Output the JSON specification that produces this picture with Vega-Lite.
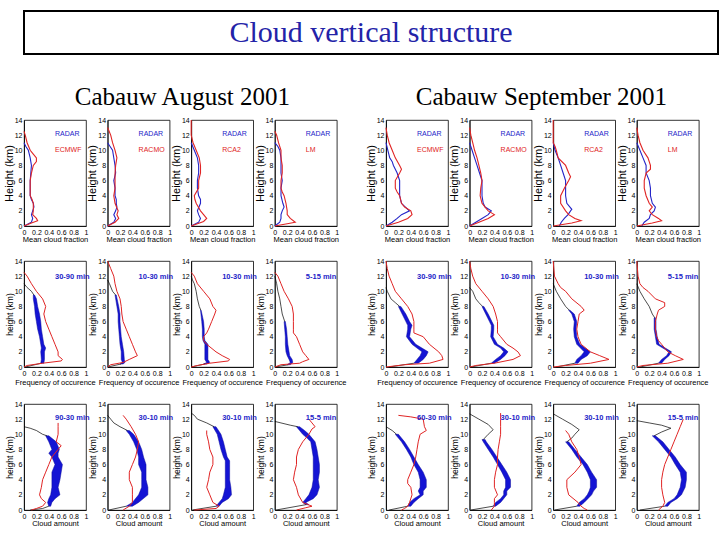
{
"$schema": "https://vega.github.io/schema/vega-lite/v6.json",
"background": "white",
"padding": {"left": 0, "top": 10, "right": 0, "bottom": 0},
"config": {
 "font": "Liberation Sans",
 "mark": {"invalid": null},
 "view": {"stroke": "#000", "strokeWidth": 0.8},
 "axis": {"grid": false, "ticks": false, "domainColor": "#000", "domainWidth": 0.8, "labelColor": "#000", "labelFontSize": 7, "labelPadding": 2, "labelFlush": false, "labelOverlap": false, "labelBound": false, "titleColor": "#000", "titleFontSize": 7.5, "titleFontWeight": "normal", "titlePadding": 0},
 "title": {"color": "#000", "font": "Liberation Serif", "fontWeight": "normal"}
},
"datasets": {
"a1": [
{"c":1,"s":"lab","t1":"RADAR","t2":"ECMWF"},{"c":2,"s":"lab","t1":"RADAR","t2":"RACMO"},{"c":3,"s":"lab","t1":"RADAR","t2":"RCA2"},{"c":4,"s":"lab","t1":"RADAR","t2":"LM"},
{"c":1,"s":"b","h":11,"x":0},{"c":1,"s":"b","h":10.5,"x":0.03},{"c":1,"s":"b","h":10,"x":0.07},{"c":1,"s":"b","h":9,"x":0.1},{"c":1,"s":"b","h":8,"x":0.12},{"c":1,"s":"b","h":7,"x":0.11},{"c":1,"s":"b","h":6,"x":0.1},{"c":1,"s":"b","h":5,"x":0.1},{"c":1,"s":"b","h":4,"x":0.1},{"c":1,"s":"b","h":3.5,"x":0.12},{"c":1,"s":"b","h":3,"x":0.15},{"c":1,"s":"b","h":2.5,"x":0.16},{"c":1,"s":"b","h":2,"x":0.14},{"c":1,"s":"b","h":1.5,"x":0.12},{"c":1,"s":"b","h":1,"x":0.14},{"c":1,"s":"b","h":0.5,"x":0.12},{"c":1,"s":"b","h":0.2,"x":0.05},{"c":1,"s":"b","h":0,"x":0},
{"c":1,"s":"r","h":12.5,"x":0},{"c":1,"s":"r","h":12,"x":0.02},{"c":1,"s":"r","h":11,"x":0.05},{"c":1,"s":"r","h":10,"x":0.1},{"c":1,"s":"r","h":9.5,"x":0.15},{"c":1,"s":"r","h":9,"x":0.2},{"c":1,"s":"r","h":8.5,"x":0.2},{"c":1,"s":"r","h":8,"x":0.15},{"c":1,"s":"r","h":7,"x":0.12},{"c":1,"s":"r","h":6,"x":0.1},{"c":1,"s":"r","h":5,"x":0.1},{"c":1,"s":"r","h":4,"x":0.1},{"c":1,"s":"r","h":3.5,"x":0.13},{"c":1,"s":"r","h":3,"x":0.15},{"c":1,"s":"r","h":2,"x":0.15},{"c":1,"s":"r","h":1.5,"x":0.14},{"c":1,"s":"r","h":1,"x":0.2},{"c":1,"s":"r","h":0.7,"x":0.22},{"c":1,"s":"r","h":0.4,"x":0.12},{"c":1,"s":"r","h":0,"x":0},
{"c":2,"s":"b","h":11,"x":0},{"c":2,"s":"b","h":10.5,"x":0.04},{"c":2,"s":"b","h":10,"x":0.08},{"c":2,"s":"b","h":9,"x":0.1},{"c":2,"s":"b","h":8,"x":0.12},{"c":2,"s":"b","h":7,"x":0.13},{"c":2,"s":"b","h":6,"x":0.1},{"c":2,"s":"b","h":5,"x":0.12},{"c":2,"s":"b","h":4,"x":0.12},{"c":2,"s":"b","h":3.5,"x":0.14},{"c":2,"s":"b","h":3,"x":0.14},{"c":2,"s":"b","h":2.5,"x":0.15},{"c":2,"s":"b","h":2,"x":0.13},{"c":2,"s":"b","h":1.5,"x":0.1},{"c":2,"s":"b","h":1,"x":0.13},{"c":2,"s":"b","h":0.5,"x":0.1},{"c":2,"s":"b","h":0.2,"x":0.04},{"c":2,"s":"b","h":0,"x":0},
{"c":2,"s":"r","h":13,"x":0},{"c":2,"s":"r","h":12,"x":0.05},{"c":2,"s":"r","h":11,"x":0.08},{"c":2,"s":"r","h":10,"x":0.12},{"c":2,"s":"r","h":9,"x":0.15},{"c":2,"s":"r","h":8,"x":0.13},{"c":2,"s":"r","h":7,"x":0.12},{"c":2,"s":"r","h":6,"x":0.12},{"c":2,"s":"r","h":5,"x":0.12},{"c":2,"s":"r","h":4,"x":0.1},{"c":2,"s":"r","h":3,"x":0.12},{"c":2,"s":"r","h":2,"x":0.17},{"c":2,"s":"r","h":1.5,"x":0.15},{"c":2,"s":"r","h":1,"x":0.18},{"c":2,"s":"r","h":0.5,"x":0.12},{"c":2,"s":"r","h":0,"x":0},
{"c":3,"s":"b","h":11,"x":0},{"c":3,"s":"b","h":10,"x":0.05},{"c":3,"s":"b","h":9,"x":0.1},{"c":3,"s":"b","h":8,"x":0.12},{"c":3,"s":"b","h":7,"x":0.12},{"c":3,"s":"b","h":6,"x":0.1},{"c":3,"s":"b","h":5,"x":0.1},{"c":3,"s":"b","h":4,"x":0.12},{"c":3,"s":"b","h":3.5,"x":0.15},{"c":3,"s":"b","h":3,"x":0.15},{"c":3,"s":"b","h":2,"x":0.1},{"c":3,"s":"b","h":1.5,"x":0.12},{"c":3,"s":"b","h":1,"x":0.15},{"c":3,"s":"b","h":0.5,"x":0.12},{"c":3,"s":"b","h":0,"x":0},
{"c":3,"s":"r","h":14,"x":0},{"c":3,"s":"r","h":12,"x":0},{"c":3,"s":"r","h":11,"x":0.03},{"c":3,"s":"r","h":10,"x":0.08},{"c":3,"s":"r","h":9,"x":0.13},{"c":3,"s":"r","h":8,"x":0.15},{"c":3,"s":"r","h":7,"x":0.15},{"c":3,"s":"r","h":6,"x":0.12},{"c":3,"s":"r","h":5,"x":0.12},{"c":3,"s":"r","h":4,"x":0.05},{"c":3,"s":"r","h":3.5,"x":0.06},{"c":3,"s":"r","h":3,"x":0.08},{"c":3,"s":"r","h":2,"x":0.15},{"c":3,"s":"r","h":1.5,"x":0.2},{"c":3,"s":"r","h":1,"x":0.25},{"c":3,"s":"r","h":0.6,"x":0.2},{"c":3,"s":"r","h":0.3,"x":0.1},{"c":3,"s":"r","h":0,"x":0},
{"c":4,"s":"b","h":11,"x":0},{"c":4,"s":"b","h":10.5,"x":0.05},{"c":4,"s":"b","h":10,"x":0.08},{"c":4,"s":"b","h":9,"x":0.1},{"c":4,"s":"b","h":8,"x":0.1},{"c":4,"s":"b","h":7,"x":0.1},{"c":4,"s":"b","h":6,"x":0.12},{"c":4,"s":"b","h":5,"x":0.1},{"c":4,"s":"b","h":4,"x":0.1},{"c":4,"s":"b","h":3,"x":0.13},{"c":4,"s":"b","h":2.5,"x":0.15},{"c":4,"s":"b","h":2,"x":0.12},{"c":4,"s":"b","h":1.5,"x":0.1},{"c":4,"s":"b","h":1,"x":0.1},{"c":4,"s":"b","h":0.5,"x":0.08},{"c":4,"s":"b","h":0,"x":0},
{"c":4,"s":"r","h":12.5,"x":0},{"c":4,"s":"r","h":12,"x":0.03},{"c":4,"s":"r","h":11,"x":0.06},{"c":4,"s":"r","h":10,"x":0.1},{"c":4,"s":"r","h":9,"x":0.1},{"c":4,"s":"r","h":8,"x":0.12},{"c":4,"s":"r","h":7,"x":0.12},{"c":4,"s":"r","h":6,"x":0.1},{"c":4,"s":"r","h":5,"x":0.1},{"c":4,"s":"r","h":4.5,"x":0.12},{"c":4,"s":"r","h":4,"x":0.15},{"c":4,"s":"r","h":3,"x":0.18},{"c":4,"s":"r","h":2,"x":0.2},{"c":4,"s":"r","h":1.5,"x":0.2},{"c":4,"s":"r","h":1,"x":0.25},{"c":4,"s":"r","h":0.5,"x":0.33},{"c":4,"s":"r","h":0.3,"x":0.2},{"c":4,"s":"r","h":0,"x":0}
],
"s1": [
{"c":1,"s":"lab","t1":"RADAR","t2":"ECMWF"},{"c":2,"s":"lab","t1":"RADAR","t2":"RACMO"},{"c":3,"s":"lab","t1":"RADAR","t2":"RCA2"},{"c":4,"s":"lab","t1":"RADAR","t2":"LM"},
{"c":1,"s":"b","h":11,"x":0},{"c":1,"s":"b","h":10,"x":0.03},{"c":1,"s":"b","h":9,"x":0.06},{"c":1,"s":"b","h":8.5,"x":0.1},{"c":1,"s":"b","h":8,"x":0.12},{"c":1,"s":"b","h":7,"x":0.18},{"c":1,"s":"b","h":6.5,"x":0.2},{"c":1,"s":"b","h":6,"x":0.22},{"c":1,"s":"b","h":5,"x":0.22},{"c":1,"s":"b","h":4,"x":0.22},{"c":1,"s":"b","h":3,"x":0.25},{"c":1,"s":"b","h":2.2,"x":0.35},{"c":1,"s":"b","h":2,"x":0.38},{"c":1,"s":"b","h":1.5,"x":0.25},{"c":1,"s":"b","h":1,"x":0.18},{"c":1,"s":"b","h":0.5,"x":0.1},{"c":1,"s":"b","h":0,"x":0},
{"c":1,"s":"r","h":13,"x":0},{"c":1,"s":"r","h":12,"x":0.02},{"c":1,"s":"r","h":11,"x":0.05},{"c":1,"s":"r","h":10,"x":0.1},{"c":1,"s":"r","h":9,"x":0.15},{"c":1,"s":"r","h":8,"x":0.22},{"c":1,"s":"r","h":7.5,"x":0.25},{"c":1,"s":"r","h":7,"x":0.22},{"c":1,"s":"r","h":6,"x":0.15},{"c":1,"s":"r","h":5,"x":0.15},{"c":1,"s":"r","h":4.5,"x":0.18},{"c":1,"s":"r","h":4,"x":0.22},{"c":1,"s":"r","h":3,"x":0.25},{"c":1,"s":"r","h":2.5,"x":0.3},{"c":1,"s":"r","h":2,"x":0.4},{"c":1,"s":"r","h":1.5,"x":0.42},{"c":1,"s":"r","h":1,"x":0.35},{"c":1,"s":"r","h":0.5,"x":0.2},{"c":1,"s":"r","h":0,"x":0},
{"c":2,"s":"b","h":11,"x":0},{"c":2,"s":"b","h":10,"x":0.04},{"c":2,"s":"b","h":9,"x":0.08},{"c":2,"s":"b","h":8,"x":0.12},{"c":2,"s":"b","h":7,"x":0.16},{"c":2,"s":"b","h":6,"x":0.2},{"c":2,"s":"b","h":5,"x":0.2},{"c":2,"s":"b","h":4,"x":0.2},{"c":2,"s":"b","h":3,"x":0.22},{"c":2,"s":"b","h":2.5,"x":0.25},{"c":2,"s":"b","h":2,"x":0.35},{"c":2,"s":"b","h":1.5,"x":0.3},{"c":2,"s":"b","h":1,"x":0.2},{"c":2,"s":"b","h":0.5,"x":0.1},{"c":2,"s":"b","h":0,"x":0},
{"c":2,"s":"r","h":13,"x":0},{"c":2,"s":"r","h":12,"x":0.02},{"c":2,"s":"r","h":11,"x":0.05},{"c":2,"s":"r","h":10,"x":0.08},{"c":2,"s":"r","h":9,"x":0.12},{"c":2,"s":"r","h":8,"x":0.15},{"c":2,"s":"r","h":7,"x":0.18},{"c":2,"s":"r","h":6,"x":0.2},{"c":2,"s":"r","h":5,"x":0.18},{"c":2,"s":"r","h":4,"x":0.17},{"c":2,"s":"r","h":3,"x":0.2},{"c":2,"s":"r","h":2.5,"x":0.25},{"c":2,"s":"r","h":2,"x":0.3},{"c":2,"s":"r","h":1.5,"x":0.4},{"c":2,"s":"r","h":1,"x":0.3},{"c":2,"s":"r","h":0.5,"x":0.15},{"c":2,"s":"r","h":0,"x":0},
{"c":3,"s":"b","h":11,"x":0},{"c":3,"s":"b","h":10,"x":0.03},{"c":3,"s":"b","h":9,"x":0.08},{"c":3,"s":"b","h":8,"x":0.12},{"c":3,"s":"b","h":7,"x":0.16},{"c":3,"s":"b","h":6,"x":0.2},{"c":3,"s":"b","h":5,"x":0.2},{"c":3,"s":"b","h":4,"x":0.2},{"c":3,"s":"b","h":3,"x":0.22},{"c":3,"s":"b","h":2.2,"x":0.3},{"c":3,"s":"b","h":2,"x":0.28},{"c":3,"s":"b","h":1.5,"x":0.24},{"c":3,"s":"b","h":1,"x":0.18},{"c":3,"s":"b","h":0.5,"x":0.13},{"c":3,"s":"b","h":0,"x":0.1},
{"c":3,"s":"r","h":14,"x":0},{"c":3,"s":"r","h":11,"x":0},{"c":3,"s":"r","h":10.5,"x":0.03},{"c":3,"s":"r","h":10,"x":0.05},{"c":3,"s":"r","h":9,"x":0.08},{"c":3,"s":"r","h":8,"x":0.2},{"c":3,"s":"r","h":7,"x":0.25},{"c":3,"s":"r","h":6.5,"x":0.28},{"c":3,"s":"r","h":6,"x":0.25},{"c":3,"s":"r","h":5,"x":0.18},{"c":3,"s":"r","h":4,"x":0.12},{"c":3,"s":"r","h":3,"x":0.12},{"c":3,"s":"r","h":2,"x":0.2},{"c":3,"s":"r","h":1.5,"x":0.25},{"c":3,"s":"r","h":1,"x":0.35},{"c":3,"s":"r","h":0.7,"x":0.45},{"c":3,"s":"r","h":0.4,"x":0.3},{"c":3,"s":"r","h":0.2,"x":0.15},{"c":3,"s":"r","h":0,"x":0},
{"c":4,"s":"b","h":11,"x":0},{"c":4,"s":"b","h":10,"x":0.05},{"c":4,"s":"b","h":9,"x":0.1},{"c":4,"s":"b","h":8,"x":0.15},{"c":4,"s":"b","h":7,"x":0.15},{"c":4,"s":"b","h":6,"x":0.2},{"c":4,"s":"b","h":5,"x":0.22},{"c":4,"s":"b","h":4,"x":0.22},{"c":4,"s":"b","h":3,"x":0.25},{"c":4,"s":"b","h":2.5,"x":0.3},{"c":4,"s":"b","h":2,"x":0.28},{"c":4,"s":"b","h":1.5,"x":0.22},{"c":4,"s":"b","h":1,"x":0.2},{"c":4,"s":"b","h":0.5,"x":0.12},{"c":4,"s":"b","h":0,"x":0.08},
{"c":4,"s":"r","h":13,"x":0},{"c":4,"s":"r","h":12,"x":0.02},{"c":4,"s":"r","h":11,"x":0.05},{"c":4,"s":"r","h":10,"x":0.1},{"c":4,"s":"r","h":9,"x":0.18},{"c":4,"s":"r","h":8,"x":0.22},{"c":4,"s":"r","h":7.5,"x":0.22},{"c":4,"s":"r","h":7,"x":0.15},{"c":4,"s":"r","h":6,"x":0.12},{"c":4,"s":"r","h":5,"x":0.12},{"c":4,"s":"r","h":4,"x":0.15},{"c":4,"s":"r","h":3,"x":0.2},{"c":4,"s":"r","h":2.5,"x":0.25},{"c":4,"s":"r","h":2,"x":0.2},{"c":4,"s":"r","h":1.5,"x":0.25},{"c":4,"s":"r","h":1,"x":0.35},{"c":4,"s":"r","h":0.7,"x":0.4},{"c":4,"s":"r","h":0.4,"x":0.25},{"c":4,"s":"r","h":0,"x":0}
],
"a2": [
{"c":1,"s":"lab","t1":"30-90 min"},{"c":2,"s":"lab","t1":"10-30 min"},{"c":3,"s":"lab","t1":"10-30 min"},{"c":4,"s":"lab","t1":"5-15 min"},
{"c":1,"s":"r","h":12.5,"x":0},{"c":1,"s":"r","h":12,"x":0.05},{"c":1,"s":"r","h":11,"x":0.12},{"c":1,"s":"r","h":10,"x":0.2},{"c":1,"s":"r","h":9,"x":0.3},{"c":1,"s":"r","h":8,"x":0.35},{"c":1,"s":"r","h":7,"x":0.32},{"c":1,"s":"r","h":6,"x":0.35},{"c":1,"s":"r","h":5,"x":0.4},{"c":1,"s":"r","h":4,"x":0.45},{"c":1,"s":"r","h":3,"x":0.5},{"c":1,"s":"r","h":2,"x":0.55},{"c":1,"s":"r","h":1.5,"x":0.55},{"c":1,"s":"r","h":1,"x":0.62},{"c":1,"s":"r","h":0.8,"x":0.6},{"c":1,"s":"r","h":0.5,"x":0.3},{"c":1,"s":"r","h":0.2,"x":0.05},{"c":1,"s":"r","h":0,"x":0},
{"c":1,"s":"k1","h":11,"x":0},{"c":1,"s":"k1","h":10.5,"x":0.05},{"c":1,"s":"k1","h":10,"x":0.12},{"c":1,"s":"k1","h":9.5,"x":0.16},
{"c":1,"s":"band","h":9.5,"x":0.15,"hi":0.17},{"c":1,"s":"band","h":9,"x":0.15,"hi":0.2},{"c":1,"s":"band","h":8,"x":0.17,"hi":0.22},{"c":1,"s":"band","h":7,"x":0.18,"hi":0.25},{"c":1,"s":"band","h":6,"x":0.2,"hi":0.27},{"c":1,"s":"band","h":5,"x":0.22,"hi":0.28},{"c":1,"s":"band","h":4,"x":0.25,"hi":0.3},{"c":1,"s":"band","h":3,"x":0.27,"hi":0.32},{"c":1,"s":"band","h":2.5,"x":0.28,"hi":0.35},{"c":1,"s":"band","h":2,"x":0.27,"hi":0.33},{"c":1,"s":"band","h":1,"x":0.28,"hi":0.33},{"c":1,"s":"band","h":0.5,"x":0.27,"hi":0.32},
{"c":1,"s":"k2","h":0.5,"x":0.28},{"c":1,"s":"k2","h":0,"x":0.02},
{"c":2,"s":"r","h":14,"x":0},{"c":2,"s":"r","h":13,"x":0.05},{"c":2,"s":"r","h":12,"x":0.1},{"c":2,"s":"r","h":11,"x":0.12},{"c":2,"s":"r","h":10,"x":0.15},{"c":2,"s":"r","h":9,"x":0.2},{"c":2,"s":"r","h":8,"x":0.22},{"c":2,"s":"r","h":7,"x":0.23},{"c":2,"s":"r","h":6,"x":0.25},{"c":2,"s":"r","h":5,"x":0.3},{"c":2,"s":"r","h":4,"x":0.35},{"c":2,"s":"r","h":3,"x":0.4},{"c":2,"s":"r","h":2,"x":0.45},{"c":2,"s":"r","h":1.5,"x":0.48},{"c":2,"s":"r","h":1,"x":0.35},{"c":2,"s":"r","h":0.6,"x":0.25},{"c":2,"s":"r","h":0.3,"x":0.05},{"c":2,"s":"r","h":0,"x":0},
{"c":2,"s":"k1","h":11.5,"x":0},{"c":2,"s":"k1","h":11,"x":0.03},{"c":2,"s":"k1","h":10,"x":0.08},{"c":2,"s":"k1","h":9.5,"x":0.13},
{"c":2,"s":"band","h":9.5,"x":0.12,"hi":0.14},{"c":2,"s":"band","h":8,"x":0.15,"hi":0.18},{"c":2,"s":"band","h":7,"x":0.17,"hi":0.2},{"c":2,"s":"band","h":6,"x":0.17,"hi":0.2},{"c":2,"s":"band","h":5,"x":0.18,"hi":0.21},{"c":2,"s":"band","h":4,"x":0.19,"hi":0.22},{"c":2,"s":"band","h":3,"x":0.2,"hi":0.24},{"c":2,"s":"band","h":2,"x":0.22,"hi":0.26},{"c":2,"s":"band","h":1,"x":0.22,"hi":0.27},{"c":2,"s":"band","h":0.6,"x":0.24,"hi":0.28},{"c":2,"s":"band","h":0.4,"x":0.2,"hi":0.25},
{"c":2,"s":"k2","h":0.4,"x":0.22},{"c":2,"s":"k2","h":0,"x":0},
{"c":3,"s":"r","h":12.5,"x":0},{"c":3,"s":"r","h":12,"x":0.05},{"c":3,"s":"r","h":11,"x":0.1},{"c":3,"s":"r","h":10,"x":0.2},{"c":3,"s":"r","h":9,"x":0.3},{"c":3,"s":"r","h":8,"x":0.35},{"c":3,"s":"r","h":7.5,"x":0.4},{"c":3,"s":"r","h":7,"x":0.38},{"c":3,"s":"r","h":6,"x":0.33},{"c":3,"s":"r","h":5,"x":0.28},{"c":3,"s":"r","h":4.5,"x":0.25},{"c":3,"s":"r","h":4,"x":0.2},{"c":3,"s":"r","h":3.5,"x":0.2},{"c":3,"s":"r","h":3,"x":0.25},{"c":3,"s":"r","h":2,"x":0.4},{"c":3,"s":"r","h":1.5,"x":0.5},{"c":3,"s":"r","h":1,"x":0.62},{"c":3,"s":"r","h":0.8,"x":0.6},{"c":3,"s":"r","h":0.5,"x":0.3},{"c":3,"s":"r","h":0.2,"x":0.1},{"c":3,"s":"r","h":0,"x":0},
{"c":3,"s":"k1","h":12,"x":0},{"c":3,"s":"k1","h":11.5,"x":0.02},{"c":3,"s":"k1","h":11,"x":0.05},{"c":3,"s":"k1","h":10,"x":0.08},{"c":3,"s":"k1","h":9,"x":0.1},{"c":3,"s":"k1","h":8,"x":0.13},{"c":3,"s":"k1","h":7.5,"x":0.155},
{"c":3,"s":"band","h":7.5,"x":0.15,"hi":0.16},{"c":3,"s":"band","h":6,"x":0.17,"hi":0.2},{"c":3,"s":"band","h":5,"x":0.18,"hi":0.21},{"c":3,"s":"band","h":4,"x":0.18,"hi":0.21},{"c":3,"s":"band","h":3.5,"x":0.19,"hi":0.22},{"c":3,"s":"band","h":3,"x":0.22,"hi":0.27},{"c":3,"s":"band","h":2,"x":0.22,"hi":0.27},{"c":3,"s":"band","h":1,"x":0.22,"hi":0.27},{"c":3,"s":"band","h":0.6,"x":0.25,"hi":0.3},{"c":3,"s":"band","h":0.4,"x":0.2,"hi":0.25},
{"c":3,"s":"k2","h":0.4,"x":0.22},{"c":3,"s":"k2","h":0,"x":0},
{"c":4,"s":"r","h":12.5,"x":0},{"c":4,"s":"r","h":12,"x":0.05},{"c":4,"s":"r","h":11,"x":0.1},{"c":4,"s":"r","h":10,"x":0.15},{"c":4,"s":"r","h":9,"x":0.22},{"c":4,"s":"r","h":8,"x":0.28},{"c":4,"s":"r","h":7,"x":0.3},{"c":4,"s":"r","h":6,"x":0.3},{"c":4,"s":"r","h":5,"x":0.3},{"c":4,"s":"r","h":4.5,"x":0.3},{"c":4,"s":"r","h":4,"x":0.35},{"c":4,"s":"r","h":3,"x":0.4},{"c":4,"s":"r","h":2,"x":0.45},{"c":4,"s":"r","h":1.5,"x":0.5},{"c":4,"s":"r","h":1,"x":0.55},{"c":4,"s":"r","h":0.7,"x":0.45},{"c":4,"s":"r","h":0.5,"x":0.4},{"c":4,"s":"r","h":0.3,"x":0.1},{"c":4,"s":"r","h":0,"x":0},
{"c":4,"s":"k1","h":12,"x":0},{"c":4,"s":"k1","h":11,"x":0.03},{"c":4,"s":"k1","h":10,"x":0.05},{"c":4,"s":"k1","h":9,"x":0.08},{"c":4,"s":"k1","h":8,"x":0.1},{"c":4,"s":"k1","h":7,"x":0.12},{"c":4,"s":"k1","h":6,"x":0.16},
{"c":4,"s":"band","h":6,"x":0.15,"hi":0.17},{"c":4,"s":"band","h":5,"x":0.16,"hi":0.19},{"c":4,"s":"band","h":4,"x":0.17,"hi":0.2},{"c":4,"s":"band","h":3,"x":0.17,"hi":0.21},{"c":4,"s":"band","h":2,"x":0.18,"hi":0.23},{"c":4,"s":"band","h":1.5,"x":0.2,"hi":0.24},{"c":4,"s":"band","h":1,"x":0.23,"hi":0.28},{"c":4,"s":"band","h":0.6,"x":0.25,"hi":0.29},{"c":4,"s":"band","h":0.3,"x":0.2,"hi":0.25},
{"c":4,"s":"k2","h":0.3,"x":0.22},{"c":4,"s":"k2","h":0,"x":0}
],
"s2": [
{"c":1,"s":"lab","t1":"30-90 min"},{"c":2,"s":"lab","t1":"10-30 min"},{"c":3,"s":"lab","t1":"10-30 min"},{"c":4,"s":"lab","t1":"5-15 min"},
{"c":1,"s":"r","h":14,"x":0},{"c":1,"s":"r","h":13,"x":0.02},{"c":1,"s":"r","h":12,"x":0.05},{"c":1,"s":"r","h":11,"x":0.1},{"c":1,"s":"r","h":10,"x":0.15},{"c":1,"s":"r","h":9,"x":0.25},{"c":1,"s":"r","h":8,"x":0.35},{"c":1,"s":"r","h":7,"x":0.42},{"c":1,"s":"r","h":6,"x":0.45},{"c":1,"s":"r","h":5,"x":0.45},{"c":1,"s":"r","h":4.5,"x":0.45},{"c":1,"s":"r","h":4,"x":0.6},{"c":1,"s":"r","h":3,"x":0.7},{"c":1,"s":"r","h":2,"x":0.85},{"c":1,"s":"r","h":1.5,"x":0.9},{"c":1,"s":"r","h":1,"x":0.92},{"c":1,"s":"r","h":0.5,"x":0.7},{"c":1,"s":"r","h":0.3,"x":0.3},{"c":1,"s":"r","h":0,"x":0},
{"c":1,"s":"k1","h":10.5,"x":0},{"c":1,"s":"k1","h":10,"x":0.02},{"c":1,"s":"k1","h":9,"x":0.08},{"c":1,"s":"k1","h":8.5,"x":0.15},{"c":1,"s":"k1","h":8,"x":0.22},
{"c":1,"s":"band","h":8,"x":0.2,"hi":0.24},{"c":1,"s":"band","h":7,"x":0.26,"hi":0.32},{"c":1,"s":"band","h":6,"x":0.32,"hi":0.38},{"c":1,"s":"band","h":5.5,"x":0.35,"hi":0.42},{"c":1,"s":"band","h":5,"x":0.35,"hi":0.4},{"c":1,"s":"band","h":4,"x":0.33,"hi":0.38},{"c":1,"s":"band","h":3,"x":0.42,"hi":0.48},{"c":1,"s":"band","h":2.5,"x":0.5,"hi":0.58},{"c":1,"s":"band","h":2,"x":0.58,"hi":0.68},{"c":1,"s":"band","h":1.5,"x":0.55,"hi":0.65},{"c":1,"s":"band","h":1,"x":0.5,"hi":0.6},{"c":1,"s":"band","h":0.5,"x":0.45,"hi":0.52},
{"c":1,"s":"k2","h":0.5,"x":0.45},{"c":1,"s":"k2","h":0,"x":0.05},
{"c":2,"s":"r","h":14,"x":0},{"c":2,"s":"r","h":13,"x":0.02},{"c":2,"s":"r","h":12,"x":0.05},{"c":2,"s":"r","h":11,"x":0.1},{"c":2,"s":"r","h":10,"x":0.2},{"c":2,"s":"r","h":9,"x":0.3},{"c":2,"s":"r","h":8,"x":0.38},{"c":2,"s":"r","h":7,"x":0.42},{"c":2,"s":"r","h":6,"x":0.45},{"c":2,"s":"r","h":5,"x":0.45},{"c":2,"s":"r","h":4.5,"x":0.45},{"c":2,"s":"r","h":4,"x":0.5},{"c":2,"s":"r","h":3,"x":0.6},{"c":2,"s":"r","h":2.5,"x":0.7},{"c":2,"s":"r","h":2,"x":0.78},{"c":2,"s":"r","h":1.5,"x":0.82},{"c":2,"s":"r","h":1,"x":0.7},{"c":2,"s":"r","h":0.5,"x":0.4},{"c":2,"s":"r","h":0.2,"x":0.1},{"c":2,"s":"r","h":0,"x":0},
{"c":2,"s":"k1","h":10.5,"x":0},{"c":2,"s":"k1","h":10,"x":0.05},{"c":2,"s":"k1","h":9,"x":0.1},{"c":2,"s":"k1","h":8.5,"x":0.15},{"c":2,"s":"k1","h":8,"x":0.21},
{"c":2,"s":"band","h":8,"x":0.2,"hi":0.23},{"c":2,"s":"band","h":7,"x":0.26,"hi":0.3},{"c":2,"s":"band","h":6,"x":0.32,"hi":0.36},{"c":2,"s":"band","h":5.5,"x":0.35,"hi":0.39},{"c":2,"s":"band","h":5,"x":0.35,"hi":0.39},{"c":2,"s":"band","h":4,"x":0.34,"hi":0.38},{"c":2,"s":"band","h":3,"x":0.4,"hi":0.45},{"c":2,"s":"band","h":2.5,"x":0.5,"hi":0.55},{"c":2,"s":"band","h":2,"x":0.55,"hi":0.62},{"c":2,"s":"band","h":1.5,"x":0.5,"hi":0.57},{"c":2,"s":"band","h":1,"x":0.42,"hi":0.5},{"c":2,"s":"band","h":0.5,"x":0.35,"hi":0.4},
{"c":2,"s":"k2","h":0.5,"x":0.35},{"c":2,"s":"k2","h":0,"x":0.02},
{"c":3,"s":"r","h":14,"x":0},{"c":3,"s":"r","h":12,"x":0.02},{"c":3,"s":"r","h":11,"x":0.08},{"c":3,"s":"r","h":10.5,"x":0.12},{"c":3,"s":"r","h":10,"x":0.2},{"c":3,"s":"r","h":9,"x":0.3},{"c":3,"s":"r","h":8,"x":0.45},{"c":3,"s":"r","h":7.5,"x":0.5},{"c":3,"s":"r","h":7,"x":0.42},{"c":3,"s":"r","h":6,"x":0.4},{"c":3,"s":"r","h":5,"x":0.38},{"c":3,"s":"r","h":4,"x":0.4},{"c":3,"s":"r","h":3,"x":0.45},{"c":3,"s":"r","h":2,"x":0.6},{"c":3,"s":"r","h":1.5,"x":0.75},{"c":3,"s":"r","h":1,"x":0.9},{"c":3,"s":"r","h":0.5,"x":0.6},{"c":3,"s":"r","h":0.2,"x":0.2},{"c":3,"s":"r","h":0,"x":0},
{"c":3,"s":"k1","h":11,"x":0},{"c":3,"s":"k1","h":10,"x":0.05},{"c":3,"s":"k1","h":9,"x":0.12},{"c":3,"s":"k1","h":8,"x":0.2},{"c":3,"s":"k1","h":7.5,"x":0.26},
{"c":3,"s":"band","h":7.5,"x":0.25,"hi":0.27},{"c":3,"s":"band","h":7,"x":0.3,"hi":0.34},{"c":3,"s":"band","h":6,"x":0.34,"hi":0.38},{"c":3,"s":"band","h":5,"x":0.33,"hi":0.37},{"c":3,"s":"band","h":4,"x":0.34,"hi":0.38},{"c":3,"s":"band","h":3,"x":0.38,"hi":0.43},{"c":3,"s":"band","h":2,"x":0.5,"hi":0.6},{"c":3,"s":"band","h":1.5,"x":0.45,"hi":0.55},{"c":3,"s":"band","h":1,"x":0.38,"hi":0.45},{"c":3,"s":"band","h":0.5,"x":0.35,"hi":0.4},
{"c":3,"s":"k2","h":0.5,"x":0.35},{"c":3,"s":"k2","h":0,"x":0.05},
{"c":4,"s":"r","h":14,"x":0},{"c":4,"s":"r","h":12,"x":0.02},{"c":4,"s":"r","h":11,"x":0.05},{"c":4,"s":"r","h":10.5,"x":0.1},{"c":4,"s":"r","h":10,"x":0.18},{"c":4,"s":"r","h":9,"x":0.3},{"c":4,"s":"r","h":8.5,"x":0.45},{"c":4,"s":"r","h":8,"x":0.45},{"c":4,"s":"r","h":7.5,"x":0.35},{"c":4,"s":"r","h":7,"x":0.33},{"c":4,"s":"r","h":6,"x":0.3},{"c":4,"s":"r","h":5,"x":0.3},{"c":4,"s":"r","h":4,"x":0.32},{"c":4,"s":"r","h":3.5,"x":0.35},{"c":4,"s":"r","h":3,"x":0.4},{"c":4,"s":"r","h":2,"x":0.5},{"c":4,"s":"r","h":1.5,"x":0.62},{"c":4,"s":"r","h":1,"x":0.75},{"c":4,"s":"r","h":0.5,"x":0.5},{"c":4,"s":"r","h":0.2,"x":0.1},{"c":4,"s":"r","h":0,"x":0},
{"c":4,"s":"k1","h":11,"x":0},{"c":4,"s":"k1","h":10,"x":0.05},{"c":4,"s":"k1","h":9,"x":0.12},{"c":4,"s":"k1","h":8,"x":0.2},{"c":4,"s":"k1","h":7,"x":0.25},{"c":4,"s":"k1","h":6.5,"x":0.29},
{"c":4,"s":"band","h":6.5,"x":0.28,"hi":0.3},{"c":4,"s":"band","h":6,"x":0.28,"hi":0.31},{"c":4,"s":"band","h":5,"x":0.28,"hi":0.31},{"c":4,"s":"band","h":4,"x":0.3,"hi":0.33},{"c":4,"s":"band","h":3,"x":0.32,"hi":0.36},{"c":4,"s":"band","h":2.5,"x":0.42,"hi":0.46},{"c":4,"s":"band","h":2,"x":0.52,"hi":0.56},{"c":4,"s":"band","h":1.5,"x":0.48,"hi":0.52},{"c":4,"s":"band","h":1,"x":0.4,"hi":0.45},{"c":4,"s":"band","h":0.5,"x":0.35,"hi":0.4},
{"c":4,"s":"k2","h":0.5,"x":0.35},{"c":4,"s":"k2","h":0,"x":0.05}
],
"a3": [
{"c":1,"s":"lab","t1":"90-30 min"},{"c":2,"s":"lab","t1":"30-10 min"},{"c":3,"s":"lab","t1":"30-10 min"},{"c":4,"s":"lab","t1":"15-5 min"},
{"c":1,"s":"k1","h":11,"x":0},{"c":1,"s":"k1","h":10.8,"x":0.1},{"c":1,"s":"k1","h":10.5,"x":0.2},{"c":1,"s":"k1","h":10,"x":0.3},{"c":1,"s":"k1","h":9.8,"x":0.37},
{"c":1,"s":"band","h":9.8,"x":0.35,"hi":0.4},{"c":1,"s":"band","h":9,"x":0.4,"hi":0.52},{"c":1,"s":"band","h":8,"x":0.45,"hi":0.57},{"c":1,"s":"band","h":7.5,"x":0.4,"hi":0.55},{"c":1,"s":"band","h":7,"x":0.45,"hi":0.55},{"c":1,"s":"band","h":6,"x":0.5,"hi":0.62},{"c":1,"s":"band","h":5,"x":0.45,"hi":0.6},{"c":1,"s":"band","h":4,"x":0.45,"hi":0.58},{"c":1,"s":"band","h":3,"x":0.45,"hi":0.55},{"c":1,"s":"band","h":2,"x":0.43,"hi":0.58},{"c":1,"s":"band","h":1.5,"x":0.4,"hi":0.5},{"c":1,"s":"band","h":1,"x":0.38,"hi":0.45},{"c":1,"s":"band","h":0.5,"x":0.4,"hi":0.43},
{"c":1,"s":"k2","h":0.5,"x":0.4},{"c":1,"s":"k2","h":0.2,"x":0.3},{"c":1,"s":"k2","h":0,"x":0.1},
{"c":1,"s":"r","h":11.5,"x":0.55},{"c":1,"s":"r","h":11,"x":0.55},{"c":1,"s":"r","h":10,"x":0.55},{"c":1,"s":"r","h":9,"x":0.52},{"c":1,"s":"r","h":8.5,"x":0.6},{"c":1,"s":"r","h":8,"x":0.55},{"c":1,"s":"r","h":7,"x":0.45},{"c":1,"s":"r","h":6,"x":0.4},{"c":1,"s":"r","h":5,"x":0.35},{"c":1,"s":"r","h":4,"x":0.3},{"c":1,"s":"r","h":3,"x":0.28},{"c":1,"s":"r","h":2,"x":0.25},{"c":1,"s":"r","h":1.5,"x":0.28},{"c":1,"s":"r","h":1,"x":0.35},{"c":1,"s":"r","h":0.5,"x":0.3},{"c":1,"s":"r","h":0.2,"x":0.2},{"c":1,"s":"r","h":0,"x":0.12},
{"c":2,"s":"k1","h":12.5,"x":0},{"c":2,"s":"k1","h":12,"x":0.05},{"c":2,"s":"k1","h":11.5,"x":0.1},{"c":2,"s":"k1","h":11,"x":0.2},{"c":2,"s":"k1","h":10.5,"x":0.32},
{"c":2,"s":"band","h":10.5,"x":0.3,"hi":0.35},{"c":2,"s":"band","h":10,"x":0.35,"hi":0.42},{"c":2,"s":"band","h":9,"x":0.42,"hi":0.5},{"c":2,"s":"band","h":8,"x":0.47,"hi":0.55},{"c":2,"s":"band","h":7,"x":0.5,"hi":0.58},{"c":2,"s":"band","h":6,"x":0.5,"hi":0.62},{"c":2,"s":"band","h":5,"x":0.55,"hi":0.62},{"c":2,"s":"band","h":4,"x":0.55,"hi":0.62},{"c":2,"s":"band","h":3,"x":0.55,"hi":0.65},{"c":2,"s":"band","h":2,"x":0.5,"hi":0.65},{"c":2,"s":"band","h":1,"x":0.4,"hi":0.5},{"c":2,"s":"band","h":0.5,"x":0.3,"hi":0.4},
{"c":2,"s":"k2","h":0.5,"x":0.3},{"c":2,"s":"k2","h":0,"x":0.02},
{"c":2,"s":"r","h":12.5,"x":0.25},{"c":2,"s":"r","h":12,"x":0.3},{"c":2,"s":"r","h":11,"x":0.38},{"c":2,"s":"r","h":10,"x":0.45},{"c":2,"s":"r","h":9,"x":0.5},{"c":2,"s":"r","h":8,"x":0.48},{"c":2,"s":"r","h":7,"x":0.45},{"c":2,"s":"r","h":6,"x":0.4},{"c":2,"s":"r","h":5,"x":0.35},{"c":2,"s":"r","h":4,"x":0.35},{"c":2,"s":"r","h":3,"x":0.4},{"c":2,"s":"r","h":2,"x":0.4},{"c":2,"s":"r","h":1,"x":0.4},{"c":2,"s":"r","h":0.5,"x":0.35},{"c":2,"s":"r","h":0,"x":0.25},
{"c":3,"s":"k1","h":12.8,"x":0},{"c":3,"s":"k1","h":12.5,"x":0.05},{"c":3,"s":"k1","h":12,"x":0.1},{"c":3,"s":"k1","h":11.5,"x":0.25},{"c":3,"s":"k1","h":11,"x":0.37},
{"c":3,"s":"band","h":11,"x":0.35,"hi":0.4},{"c":3,"s":"band","h":10,"x":0.42,"hi":0.48},{"c":3,"s":"band","h":9,"x":0.45,"hi":0.52},{"c":3,"s":"band","h":8,"x":0.48,"hi":0.55},{"c":3,"s":"band","h":7,"x":0.52,"hi":0.58},{"c":3,"s":"band","h":6.5,"x":0.55,"hi":0.62},{"c":3,"s":"band","h":6,"x":0.55,"hi":0.62},{"c":3,"s":"band","h":5,"x":0.55,"hi":0.62},{"c":3,"s":"band","h":4,"x":0.55,"hi":0.62},{"c":3,"s":"band","h":3,"x":0.55,"hi":0.64},{"c":3,"s":"band","h":2,"x":0.52,"hi":0.65},{"c":3,"s":"band","h":1.5,"x":0.5,"hi":0.6},{"c":3,"s":"band","h":1,"x":0.45,"hi":0.5},{"c":3,"s":"band","h":0.5,"x":0.4,"hi":0.45},
{"c":3,"s":"k2","h":0.5,"x":0.4},{"c":3,"s":"k2","h":0,"x":0.02},
{"c":3,"s":"r","h":10.5,"x":0.25},{"c":3,"s":"r","h":10,"x":0.25},{"c":3,"s":"r","h":9,"x":0.28},{"c":3,"s":"r","h":8,"x":0.3},{"c":3,"s":"r","h":7,"x":0.35},{"c":3,"s":"r","h":6,"x":0.35},{"c":3,"s":"r","h":5,"x":0.3},{"c":3,"s":"r","h":4,"x":0.28},{"c":3,"s":"r","h":3,"x":0.25},{"c":3,"s":"r","h":2,"x":0.3},{"c":3,"s":"r","h":1,"x":0.35},{"c":3,"s":"r","h":0.5,"x":0.45},{"c":3,"s":"r","h":0.2,"x":0.4},{"c":3,"s":"r","h":0,"x":0.05},
{"c":4,"s":"k1","h":11.7,"x":0},{"c":4,"s":"k1","h":11.5,"x":0.1},{"c":4,"s":"k1","h":11.2,"x":0.25},{"c":4,"s":"k1","h":11,"x":0.37},
{"c":4,"s":"band","h":11,"x":0.35,"hi":0.4},{"c":4,"s":"band","h":10.5,"x":0.4,"hi":0.48},{"c":4,"s":"band","h":10,"x":0.45,"hi":0.55},{"c":4,"s":"band","h":9.5,"x":0.52,"hi":0.6},{"c":4,"s":"band","h":9,"x":0.58,"hi":0.65},{"c":4,"s":"band","h":8,"x":0.6,"hi":0.68},{"c":4,"s":"band","h":7,"x":0.62,"hi":0.7},{"c":4,"s":"band","h":6,"x":0.62,"hi":0.72},{"c":4,"s":"band","h":5,"x":0.62,"hi":0.72},{"c":4,"s":"band","h":4,"x":0.62,"hi":0.7},{"c":4,"s":"band","h":3,"x":0.6,"hi":0.72},{"c":4,"s":"band","h":2,"x":0.55,"hi":0.68},{"c":4,"s":"band","h":1.5,"x":0.5,"hi":0.62},{"c":4,"s":"band","h":1,"x":0.45,"hi":0.5},{"c":4,"s":"band","h":0.7,"x":0.5,"hi":0.55},
{"c":4,"s":"k2","h":0.7,"x":0.5},{"c":4,"s":"k2","h":0,"x":0.02},
{"c":4,"s":"r","h":12,"x":0.55},{"c":4,"s":"r","h":11.5,"x":0.6},{"c":4,"s":"r","h":11,"x":0.65},{"c":4,"s":"r","h":10.7,"x":0.6},{"c":4,"s":"r","h":10,"x":0.55},{"c":4,"s":"r","h":9.5,"x":0.5},{"c":4,"s":"r","h":9,"x":0.45},{"c":4,"s":"r","h":8,"x":0.38},{"c":4,"s":"r","h":7,"x":0.35},{"c":4,"s":"r","h":6,"x":0.35},{"c":4,"s":"r","h":5,"x":0.32},{"c":4,"s":"r","h":4,"x":0.3},{"c":4,"s":"r","h":3,"x":0.35},{"c":4,"s":"r","h":2,"x":0.38},{"c":4,"s":"r","h":1,"x":0.45},{"c":4,"s":"r","h":0.5,"x":0.6},{"c":4,"s":"r","h":0.3,"x":0.5},{"c":4,"s":"r","h":0,"x":0.35}
],
"s3": [
{"c":1,"s":"lab","t1":"60-30 min"},{"c":2,"s":"lab","t1":"30-10 min"},{"c":3,"s":"lab","t1":"30-10 min"},{"c":4,"s":"lab","t1":"15-5 min"},
{"c":1,"s":"k1","h":11,"x":0},{"c":1,"s":"k1","h":10.5,"x":0.1},{"c":1,"s":"k1","h":10,"x":0.17},
{"c":1,"s":"band","h":10,"x":0.15,"hi":0.2},{"c":1,"s":"band","h":9,"x":0.25,"hi":0.3},{"c":1,"s":"band","h":8,"x":0.33,"hi":0.38},{"c":1,"s":"band","h":7,"x":0.4,"hi":0.45},{"c":1,"s":"band","h":6,"x":0.45,"hi":0.52},{"c":1,"s":"band","h":5,"x":0.52,"hi":0.6},{"c":1,"s":"band","h":4,"x":0.55,"hi":0.65},{"c":1,"s":"band","h":3,"x":0.55,"hi":0.65},{"c":1,"s":"band","h":2.5,"x":0.52,"hi":0.6},{"c":1,"s":"band","h":2,"x":0.55,"hi":0.6},{"c":1,"s":"band","h":1.5,"x":0.45,"hi":0.52},{"c":1,"s":"band","h":1,"x":0.38,"hi":0.45},{"c":1,"s":"band","h":0.5,"x":0.35,"hi":0.4},
{"c":1,"s":"k2","h":0.5,"x":0.35},{"c":1,"s":"k2","h":0,"x":0.05},
{"c":1,"s":"r","h":12.5,"x":0.2},{"c":1,"s":"r","h":12.3,"x":0.4},{"c":1,"s":"r","h":12,"x":0.6},{"c":1,"s":"r","h":11,"x":0.62},{"c":1,"s":"r","h":10.5,"x":0.65},{"c":1,"s":"r","h":10,"x":0.55},{"c":1,"s":"r","h":9,"x":0.52},{"c":1,"s":"r","h":8,"x":0.5},{"c":1,"s":"r","h":7,"x":0.48},{"c":1,"s":"r","h":6,"x":0.45},{"c":1,"s":"r","h":5,"x":0.4},{"c":1,"s":"r","h":4,"x":0.35},{"c":1,"s":"r","h":3.5,"x":0.35},{"c":1,"s":"r","h":3,"x":0.4},{"c":1,"s":"r","h":2,"x":0.42},{"c":1,"s":"r","h":1,"x":0.38},{"c":1,"s":"r","h":0.5,"x":0.35},{"c":1,"s":"r","h":0.2,"x":0.3},{"c":1,"s":"r","h":0,"x":0.25},
{"c":2,"s":"k1","h":12.7,"x":0},{"c":2,"s":"k1","h":12,"x":0.15},{"c":2,"s":"k1","h":11.3,"x":0.3},{"c":2,"s":"k1","h":10.6,"x":0.38},{"c":2,"s":"k1","h":10,"x":0.3},{"c":2,"s":"k1","h":9.3,"x":0.22},
{"c":2,"s":"band","h":9.3,"x":0.2,"hi":0.25},{"c":2,"s":"band","h":9,"x":0.22,"hi":0.27},{"c":2,"s":"band","h":8,"x":0.3,"hi":0.36},{"c":2,"s":"band","h":7,"x":0.38,"hi":0.44},{"c":2,"s":"band","h":6,"x":0.45,"hi":0.52},{"c":2,"s":"band","h":5,"x":0.52,"hi":0.6},{"c":2,"s":"band","h":4,"x":0.58,"hi":0.66},{"c":2,"s":"band","h":3,"x":0.58,"hi":0.66},{"c":2,"s":"band","h":2.5,"x":0.55,"hi":0.6},{"c":2,"s":"band","h":2,"x":0.55,"hi":0.6},{"c":2,"s":"band","h":1.5,"x":0.5,"hi":0.55},{"c":2,"s":"band","h":1,"x":0.42,"hi":0.5},{"c":2,"s":"band","h":0.5,"x":0.38,"hi":0.42},
{"c":2,"s":"k2","h":0.5,"x":0.38},{"c":2,"s":"k2","h":0,"x":0.02},
{"c":2,"s":"r","h":12.8,"x":0.5},{"c":2,"s":"r","h":12,"x":0.5},{"c":2,"s":"r","h":11,"x":0.5},{"c":2,"s":"r","h":10,"x":0.5},{"c":2,"s":"r","h":9,"x":0.48},{"c":2,"s":"r","h":8,"x":0.46},{"c":2,"s":"r","h":7,"x":0.45},{"c":2,"s":"r","h":6,"x":0.45},{"c":2,"s":"r","h":5,"x":0.42},{"c":2,"s":"r","h":4,"x":0.4},{"c":2,"s":"r","h":3,"x":0.4},{"c":2,"s":"r","h":2,"x":0.45},{"c":2,"s":"r","h":1.5,"x":0.4},{"c":2,"s":"r","h":1,"x":0.4},{"c":2,"s":"r","h":0.5,"x":0.4},{"c":2,"s":"r","h":0,"x":0.35},
{"c":3,"s":"k1","h":12.7,"x":0},{"c":3,"s":"k1","h":12,"x":0.15},{"c":3,"s":"k1","h":11.3,"x":0.3},{"c":3,"s":"k1","h":10.6,"x":0.42},{"c":3,"s":"k1","h":10,"x":0.35},{"c":3,"s":"k1","h":9.5,"x":0.3},{"c":3,"s":"k1","h":9,"x":0.22},
{"c":3,"s":"band","h":9,"x":0.2,"hi":0.25},{"c":3,"s":"band","h":8,"x":0.3,"hi":0.35},{"c":3,"s":"band","h":7,"x":0.38,"hi":0.45},{"c":3,"s":"band","h":6,"x":0.48,"hi":0.55},{"c":3,"s":"band","h":5,"x":0.55,"hi":0.62},{"c":3,"s":"band","h":4,"x":0.6,"hi":0.7},{"c":3,"s":"band","h":3,"x":0.6,"hi":0.7},{"c":3,"s":"band","h":2.5,"x":0.58,"hi":0.65},{"c":3,"s":"band","h":2,"x":0.55,"hi":0.62},{"c":3,"s":"band","h":1.5,"x":0.5,"hi":0.56},{"c":3,"s":"band","h":1,"x":0.42,"hi":0.5},{"c":3,"s":"band","h":0.5,"x":0.38,"hi":0.43},
{"c":3,"s":"k2","h":0.5,"x":0.38},{"c":3,"s":"k2","h":0,"x":0.02},
{"c":3,"s":"r","h":10.5,"x":0.2},{"c":3,"s":"r","h":10,"x":0.25},{"c":3,"s":"r","h":9,"x":0.3},{"c":3,"s":"r","h":8,"x":0.38},{"c":3,"s":"r","h":7,"x":0.42},{"c":3,"s":"r","h":6,"x":0.45},{"c":3,"s":"r","h":5,"x":0.35},{"c":3,"s":"r","h":4,"x":0.22},{"c":3,"s":"r","h":3,"x":0.22},{"c":3,"s":"r","h":2,"x":0.25},{"c":3,"s":"r","h":1,"x":0.4},{"c":3,"s":"r","h":0.5,"x":0.45},{"c":3,"s":"r","h":0.2,"x":0.5},{"c":3,"s":"r","h":0,"x":0.55},
{"c":4,"s":"k1","h":11.8,"x":0},{"c":4,"s":"k1","h":11.5,"x":0.2},{"c":4,"s":"k1","h":11.2,"x":0.4},{"c":4,"s":"k1","h":10.8,"x":0.55},{"c":4,"s":"k1","h":10.3,"x":0.4},{"c":4,"s":"k1","h":9.8,"x":0.28},
{"c":4,"s":"band","h":9.8,"x":0.25,"hi":0.3},{"c":4,"s":"band","h":9,"x":0.35,"hi":0.42},{"c":4,"s":"band","h":8,"x":0.45,"hi":0.52},{"c":4,"s":"band","h":7,"x":0.55,"hi":0.62},{"c":4,"s":"band","h":6,"x":0.62,"hi":0.7},{"c":4,"s":"band","h":5,"x":0.7,"hi":0.8},{"c":4,"s":"band","h":4,"x":0.72,"hi":0.8},{"c":4,"s":"band","h":3,"x":0.7,"hi":0.78},{"c":4,"s":"band","h":2,"x":0.65,"hi":0.72},{"c":4,"s":"band","h":1.5,"x":0.6,"hi":0.65},{"c":4,"s":"band","h":1,"x":0.5,"hi":0.55},{"c":4,"s":"band","h":0.5,"x":0.45,"hi":0.5},
{"c":4,"s":"k2","h":0.5,"x":0.45},{"c":4,"s":"k2","h":0,"x":0.05},
{"c":4,"s":"r","h":12,"x":0.75},{"c":4,"s":"r","h":11,"x":0.7},{"c":4,"s":"r","h":10,"x":0.65},{"c":4,"s":"r","h":9,"x":0.6},{"c":4,"s":"r","h":8,"x":0.55},{"c":4,"s":"r","h":7,"x":0.5},{"c":4,"s":"r","h":6,"x":0.45},{"c":4,"s":"r","h":5,"x":0.42},{"c":4,"s":"r","h":4,"x":0.4},{"c":4,"s":"r","h":3,"x":0.4},{"c":4,"s":"r","h":2,"x":0.42},{"c":4,"s":"r","h":1,"x":0.45},{"c":4,"s":"r","h":0.5,"x":0.42},{"c":4,"s":"r","h":0,"x":0.35}
]
},
"spacing": 29,
"vconcat": [
{
 "width": 694, "height": 43,
 "view": {"stroke": "#000", "strokeWidth": 2},
 "data": {"values": [{"t": "Cloud vertical structure"}]},
 "mark": {"type": "text", "font": "Liberation Serif", "fontSize": 30, "color": "#2323a8", "baseline": "middle"},
 "encoding": {
  "text": {"field": "t"},
  "y": {"field": "t", "type": "nominal", "axis": {"labels": false, "ticks": false, "domain": false, "title": null, "minExtent": 23, "maxExtent": 23}}
 }
},
{
 "hconcat": [
  {
   "title": {"text": "Cabauw August 2001", "fontSize": 25, "anchor": "middle", "frame": "bounds", "dx": 8, "offset": 6},
   "spacing": 13,
   "vconcat": [
    {"data": {"name": "a1"}, "facet": {"column": {"field": "c", "type": "ordinal", "header": null}}, "spacing": 21.6, "bounds": "flush", "resolve": {"axis": {"y": "independent"}},
     "spec": {"width": 62, "height": 106,
      "layer": [
       {"transform": [{"filter": "datum.s=='b'"}], "mark": {"type": "line", "color": "#2424c8", "strokeWidth": 1.1},
        "encoding": {"x": {"field": "x", "type": "quantitative", "scale": {"domain": [0, 1], "nice": false}, "axis": {"values": [0, 0.2, 0.4, 0.6, 0.8, 1], "format": "~g", "title": "Mean cloud fraction"}},
                     "y": {"field": "h", "type": "quantitative", "scale": {"domain": [0, 14], "nice": false}, "axis": {"values": [0, 2, 4, 6, 8, 10, 12, 14], "title": "Height (km)", "titleFontSize": 11}},
                     "order": {"field": "h", "type": "quantitative"}}},
       {"transform": [{"filter": "datum.s=='r'"}], "mark": {"type": "line", "color": "#e02424", "strokeWidth": 1.1},
        "encoding": {"x": {"field": "x", "type": "quantitative", "scale": {"domain": [0, 1], "nice": false}, "axis": {"values": [0, 0.2, 0.4, 0.6, 0.8, 1], "format": "~g", "title": "Mean cloud fraction"}},
                     "y": {"field": "h", "type": "quantitative", "scale": {"domain": [0, 14], "nice": false}, "axis": {"values": [0, 2, 4, 6, 8, 10, 12, 14], "title": "Height (km)", "titleFontSize": 11}},
                     "order": {"field": "h", "type": "quantitative"}}},
       {"transform": [{"filter": "datum.s=='lab'"}], "mark": {"type": "text", "align": "left", "baseline": "middle", "fontSize": 7, "color": "#2424c8"},
        "encoding": {"x": {"datum": 0.5, "type": "quantitative", "scale": {"domain": [0, 1], "nice": false}, "axis": {"values": [0, 0.2, 0.4, 0.6, 0.8, 1], "format": "~g", "title": "Mean cloud fraction"}},
                     "y": {"datum": 12.1, "type": "quantitative", "scale": {"domain": [0, 14], "nice": false}, "axis": {"values": [0, 2, 4, 6, 8, 10, 12, 14], "title": "Height (km)", "titleFontSize": 11}},
                     "text": {"field": "t1"}}},
       {"transform": [{"filter": "datum.s=='lab'"}], "mark": {"type": "text", "align": "left", "baseline": "middle", "fontSize": 7, "color": "#e02424"},
        "encoding": {"x": {"datum": 0.5, "type": "quantitative", "scale": {"domain": [0, 1], "nice": false}, "axis": {"values": [0, 0.2, 0.4, 0.6, 0.8, 1], "format": "~g", "title": "Mean cloud fraction"}},
                     "y": {"datum": 10, "type": "quantitative", "scale": {"domain": [0, 14], "nice": false}, "axis": {"values": [0, 2, 4, 6, 8, 10, 12, 14], "title": "Height (km)", "titleFontSize": 11}},
                     "text": {"field": "t2"}}}
      ]}},
    {"data": {"name": "a2"}, "facet": {"column": {"field": "c", "type": "ordinal", "header": null}}, "spacing": 21.6, "bounds": "flush", "resolve": {"axis": {"y": "independent"}},
     "spec": {"width": 62, "height": 106,
      "layer": [
       {"transform": [{"filter": "datum.s=='band'"}], "mark": {"type": "area", "orient": "horizontal", "color": "#1414d4", "stroke": "#0c0c9c", "strokeWidth": 0.5},
        "encoding": {"x": {"field": "x", "type": "quantitative", "scale": {"domain": [0, 1], "nice": false}, "axis": {"values": [0, 0.2, 0.4, 0.6, 0.8, 1], "format": "~g", "title": "Frequency of occurence", "titlePadding": 2}},
                     "x2": {"field": "hi"},
                     "y": {"field": "h", "type": "quantitative", "scale": {"domain": [0, 14], "nice": false}, "axis": {"values": [0, 2, 4, 6, 8, 10, 12, 14], "title": "height (km)", "titleFontSize": 8.5}}}},
       {"transform": [{"filter": "datum.s=='k1'||datum.s=='k2'"}], "mark": {"type": "line", "color": "#000", "strokeWidth": 0.7},
        "encoding": {"x": {"field": "x", "type": "quantitative", "scale": {"domain": [0, 1], "nice": false}, "axis": {"values": [0, 0.2, 0.4, 0.6, 0.8, 1], "format": "~g", "title": "Frequency of occurence", "titlePadding": 2}},
                     "y": {"field": "h", "type": "quantitative", "scale": {"domain": [0, 14], "nice": false}, "axis": {"values": [0, 2, 4, 6, 8, 10, 12, 14], "title": "height (km)", "titleFontSize": 8.5}},
                     "detail": {"field": "s"}, "order": {"field": "h", "type": "quantitative"}}},
       {"transform": [{"filter": "datum.s=='r'"}], "mark": {"type": "line", "color": "#e02424", "strokeWidth": 1},
        "encoding": {"x": {"field": "x", "type": "quantitative", "scale": {"domain": [0, 1], "nice": false}, "axis": {"values": [0, 0.2, 0.4, 0.6, 0.8, 1], "format": "~g", "title": "Frequency of occurence", "titlePadding": 2}},
                     "y": {"field": "h", "type": "quantitative", "scale": {"domain": [0, 14], "nice": false}, "axis": {"values": [0, 2, 4, 6, 8, 10, 12, 14], "title": "height (km)", "titleFontSize": 8.5}},
                     "order": {"field": "h", "type": "quantitative"}}},
       {"transform": [{"filter": "datum.s=='lab'"}], "mark": {"type": "text", "align": "left", "baseline": "middle", "fontSize": 7.5, "fontWeight": "bold", "color": "#2424c8"},
        "encoding": {"x": {"datum": 0.5, "type": "quantitative", "scale": {"domain": [0, 1], "nice": false}, "axis": {"values": [0, 0.2, 0.4, 0.6, 0.8, 1], "format": "~g", "title": "Frequency of occurence", "titlePadding": 2}},
                     "y": {"datum": 11.9, "type": "quantitative", "scale": {"domain": [0, 14], "nice": false}, "axis": {"values": [0, 2, 4, 6, 8, 10, 12, 14], "title": "height (km)", "titleFontSize": 8.5}},
                     "text": {"field": "t1"}}}
      ]}},
    {"data": {"name": "a3"}, "facet": {"column": {"field": "c", "type": "ordinal", "header": null}}, "spacing": 21.6, "bounds": "flush", "resolve": {"axis": {"y": "independent"}},
     "spec": {"width": 62, "height": 106,
      "layer": [
       {"transform": [{"filter": "datum.s=='band'"}], "mark": {"type": "area", "orient": "horizontal", "color": "#1414d4", "stroke": "#0c0c9c", "strokeWidth": 0.5},
        "encoding": {"x": {"field": "x", "type": "quantitative", "scale": {"domain": [0, 1], "nice": false}, "axis": {"values": [0, 0.2, 0.4, 0.6, 0.8, 1], "format": "~g", "title": "Cloud amount"}},
                     "x2": {"field": "hi"},
                     "y": {"field": "h", "type": "quantitative", "scale": {"domain": [0, 14], "nice": false}, "axis": {"values": [0, 2, 4, 6, 8, 10, 12, 14], "title": "height (km)", "titleFontSize": 8.5}}}},
       {"transform": [{"filter": "datum.s=='k1'||datum.s=='k2'"}], "mark": {"type": "line", "color": "#000", "strokeWidth": 0.7},
        "encoding": {"x": {"field": "x", "type": "quantitative", "scale": {"domain": [0, 1], "nice": false}, "axis": {"values": [0, 0.2, 0.4, 0.6, 0.8, 1], "format": "~g", "title": "Cloud amount"}},
                     "y": {"field": "h", "type": "quantitative", "scale": {"domain": [0, 14], "nice": false}, "axis": {"values": [0, 2, 4, 6, 8, 10, 12, 14], "title": "height (km)", "titleFontSize": 8.5}},
                     "detail": {"field": "s"}, "order": {"field": "h", "type": "quantitative"}}},
       {"transform": [{"filter": "datum.s=='r'"}], "mark": {"type": "line", "color": "#e02424", "strokeWidth": 1},
        "encoding": {"x": {"field": "x", "type": "quantitative", "scale": {"domain": [0, 1], "nice": false}, "axis": {"values": [0, 0.2, 0.4, 0.6, 0.8, 1], "format": "~g", "title": "Cloud amount"}},
                     "y": {"field": "h", "type": "quantitative", "scale": {"domain": [0, 14], "nice": false}, "axis": {"values": [0, 2, 4, 6, 8, 10, 12, 14], "title": "height (km)", "titleFontSize": 8.5}},
                     "order": {"field": "h", "type": "quantitative"}}},
       {"transform": [{"filter": "datum.s=='lab'"}], "mark": {"type": "text", "align": "left", "baseline": "middle", "fontSize": 7.5, "fontWeight": "bold", "color": "#2424c8"},
        "encoding": {"x": {"datum": 0.5, "type": "quantitative", "scale": {"domain": [0, 1], "nice": false}, "axis": {"values": [0, 0.2, 0.4, 0.6, 0.8, 1], "format": "~g", "title": "Cloud amount"}},
                     "y": {"datum": 12.1, "type": "quantitative", "scale": {"domain": [0, 14], "nice": false}, "axis": {"values": [0, 2, 4, 6, 8, 10, 12, 14], "title": "height (km)", "titleFontSize": 8.5}},
                     "text": {"field": "t1"}}}
      ]}}
   ]
  },
  {
   "title": {"text": "Cabauw September 2001", "fontSize": 25, "anchor": "middle", "frame": "bounds", "dx": 5, "offset": 6},
   "spacing": 13,
   "vconcat": [
    {"data": {"name": "s1"}, "facet": {"column": {"field": "c", "type": "ordinal", "header": null}}, "spacing": 21.6, "bounds": "flush", "resolve": {"axis": {"y": "independent"}},
     "spec": {"width": 62, "height": 106,
      "layer": [
       {"transform": [{"filter": "datum.s=='b'"}], "mark": {"type": "line", "color": "#2424c8", "strokeWidth": 1.1},
        "encoding": {"x": {"field": "x", "type": "quantitative", "scale": {"domain": [0, 1], "nice": false}, "axis": {"values": [0, 0.2, 0.4, 0.6, 0.8, 1], "format": "~g", "title": "Mean cloud fraction"}},
                     "y": {"field": "h", "type": "quantitative", "scale": {"domain": [0, 14], "nice": false}, "axis": {"values": [0, 2, 4, 6, 8, 10, 12, 14], "title": "Height (km)", "titleFontSize": 11}},
                     "order": {"field": "h", "type": "quantitative"}}},
       {"transform": [{"filter": "datum.s=='r'"}], "mark": {"type": "line", "color": "#e02424", "strokeWidth": 1.1},
        "encoding": {"x": {"field": "x", "type": "quantitative", "scale": {"domain": [0, 1], "nice": false}, "axis": {"values": [0, 0.2, 0.4, 0.6, 0.8, 1], "format": "~g", "title": "Mean cloud fraction"}},
                     "y": {"field": "h", "type": "quantitative", "scale": {"domain": [0, 14], "nice": false}, "axis": {"values": [0, 2, 4, 6, 8, 10, 12, 14], "title": "Height (km)", "titleFontSize": 11}},
                     "order": {"field": "h", "type": "quantitative"}}},
       {"transform": [{"filter": "datum.s=='lab'"}], "mark": {"type": "text", "align": "left", "baseline": "middle", "fontSize": 7, "color": "#2424c8"},
        "encoding": {"x": {"datum": 0.5, "type": "quantitative", "scale": {"domain": [0, 1], "nice": false}, "axis": {"values": [0, 0.2, 0.4, 0.6, 0.8, 1], "format": "~g", "title": "Mean cloud fraction"}},
                     "y": {"datum": 12.1, "type": "quantitative", "scale": {"domain": [0, 14], "nice": false}, "axis": {"values": [0, 2, 4, 6, 8, 10, 12, 14], "title": "Height (km)", "titleFontSize": 11}},
                     "text": {"field": "t1"}}},
       {"transform": [{"filter": "datum.s=='lab'"}], "mark": {"type": "text", "align": "left", "baseline": "middle", "fontSize": 7, "color": "#e02424"},
        "encoding": {"x": {"datum": 0.5, "type": "quantitative", "scale": {"domain": [0, 1], "nice": false}, "axis": {"values": [0, 0.2, 0.4, 0.6, 0.8, 1], "format": "~g", "title": "Mean cloud fraction"}},
                     "y": {"datum": 10, "type": "quantitative", "scale": {"domain": [0, 14], "nice": false}, "axis": {"values": [0, 2, 4, 6, 8, 10, 12, 14], "title": "Height (km)", "titleFontSize": 11}},
                     "text": {"field": "t2"}}}
      ]}},
    {"data": {"name": "s2"}, "facet": {"column": {"field": "c", "type": "ordinal", "header": null}}, "spacing": 21.6, "bounds": "flush", "resolve": {"axis": {"y": "independent"}},
     "spec": {"width": 62, "height": 106,
      "layer": [
       {"transform": [{"filter": "datum.s=='band'"}], "mark": {"type": "area", "orient": "horizontal", "color": "#1414d4", "stroke": "#0c0c9c", "strokeWidth": 0.5},
        "encoding": {"x": {"field": "x", "type": "quantitative", "scale": {"domain": [0, 1], "nice": false}, "axis": {"values": [0, 0.2, 0.4, 0.6, 0.8, 1], "format": "~g", "title": "Frequency of occurence", "titlePadding": 2}},
                     "x2": {"field": "hi"},
                     "y": {"field": "h", "type": "quantitative", "scale": {"domain": [0, 14], "nice": false}, "axis": {"values": [0, 2, 4, 6, 8, 10, 12, 14], "title": "height (km)", "titleFontSize": 8.5}}}},
       {"transform": [{"filter": "datum.s=='k1'||datum.s=='k2'"}], "mark": {"type": "line", "color": "#000", "strokeWidth": 0.7},
        "encoding": {"x": {"field": "x", "type": "quantitative", "scale": {"domain": [0, 1], "nice": false}, "axis": {"values": [0, 0.2, 0.4, 0.6, 0.8, 1], "format": "~g", "title": "Frequency of occurence", "titlePadding": 2}},
                     "y": {"field": "h", "type": "quantitative", "scale": {"domain": [0, 14], "nice": false}, "axis": {"values": [0, 2, 4, 6, 8, 10, 12, 14], "title": "height (km)", "titleFontSize": 8.5}},
                     "detail": {"field": "s"}, "order": {"field": "h", "type": "quantitative"}}},
       {"transform": [{"filter": "datum.s=='r'"}], "mark": {"type": "line", "color": "#e02424", "strokeWidth": 1},
        "encoding": {"x": {"field": "x", "type": "quantitative", "scale": {"domain": [0, 1], "nice": false}, "axis": {"values": [0, 0.2, 0.4, 0.6, 0.8, 1], "format": "~g", "title": "Frequency of occurence", "titlePadding": 2}},
                     "y": {"field": "h", "type": "quantitative", "scale": {"domain": [0, 14], "nice": false}, "axis": {"values": [0, 2, 4, 6, 8, 10, 12, 14], "title": "height (km)", "titleFontSize": 8.5}},
                     "order": {"field": "h", "type": "quantitative"}}},
       {"transform": [{"filter": "datum.s=='lab'"}], "mark": {"type": "text", "align": "left", "baseline": "middle", "fontSize": 7.5, "fontWeight": "bold", "color": "#2424c8"},
        "encoding": {"x": {"datum": 0.5, "type": "quantitative", "scale": {"domain": [0, 1], "nice": false}, "axis": {"values": [0, 0.2, 0.4, 0.6, 0.8, 1], "format": "~g", "title": "Frequency of occurence", "titlePadding": 2}},
                     "y": {"datum": 11.9, "type": "quantitative", "scale": {"domain": [0, 14], "nice": false}, "axis": {"values": [0, 2, 4, 6, 8, 10, 12, 14], "title": "height (km)", "titleFontSize": 8.5}},
                     "text": {"field": "t1"}}}
      ]}},
    {"data": {"name": "s3"}, "facet": {"column": {"field": "c", "type": "ordinal", "header": null}}, "spacing": 21.6, "bounds": "flush", "resolve": {"axis": {"y": "independent"}},
     "spec": {"width": 62, "height": 106,
      "layer": [
       {"transform": [{"filter": "datum.s=='band'"}], "mark": {"type": "area", "orient": "horizontal", "color": "#1414d4", "stroke": "#0c0c9c", "strokeWidth": 0.5},
        "encoding": {"x": {"field": "x", "type": "quantitative", "scale": {"domain": [0, 1], "nice": false}, "axis": {"values": [0, 0.2, 0.4, 0.6, 0.8, 1], "format": "~g", "title": "Cloud amount"}},
                     "x2": {"field": "hi"},
                     "y": {"field": "h", "type": "quantitative", "scale": {"domain": [0, 14], "nice": false}, "axis": {"values": [0, 2, 4, 6, 8, 10, 12, 14], "title": "height (km)", "titleFontSize": 8.5}}}},
       {"transform": [{"filter": "datum.s=='k1'||datum.s=='k2'"}], "mark": {"type": "line", "color": "#000", "strokeWidth": 0.7},
        "encoding": {"x": {"field": "x", "type": "quantitative", "scale": {"domain": [0, 1], "nice": false}, "axis": {"values": [0, 0.2, 0.4, 0.6, 0.8, 1], "format": "~g", "title": "Cloud amount"}},
                     "y": {"field": "h", "type": "quantitative", "scale": {"domain": [0, 14], "nice": false}, "axis": {"values": [0, 2, 4, 6, 8, 10, 12, 14], "title": "height (km)", "titleFontSize": 8.5}},
                     "detail": {"field": "s"}, "order": {"field": "h", "type": "quantitative"}}},
       {"transform": [{"filter": "datum.s=='r'"}], "mark": {"type": "line", "color": "#e02424", "strokeWidth": 1},
        "encoding": {"x": {"field": "x", "type": "quantitative", "scale": {"domain": [0, 1], "nice": false}, "axis": {"values": [0, 0.2, 0.4, 0.6, 0.8, 1], "format": "~g", "title": "Cloud amount"}},
                     "y": {"field": "h", "type": "quantitative", "scale": {"domain": [0, 14], "nice": false}, "axis": {"values": [0, 2, 4, 6, 8, 10, 12, 14], "title": "height (km)", "titleFontSize": 8.5}},
                     "order": {"field": "h", "type": "quantitative"}}},
       {"transform": [{"filter": "datum.s=='lab'"}], "mark": {"type": "text", "align": "left", "baseline": "middle", "fontSize": 7.5, "fontWeight": "bold", "color": "#2424c8"},
        "encoding": {"x": {"datum": 0.5, "type": "quantitative", "scale": {"domain": [0, 1], "nice": false}, "axis": {"values": [0, 0.2, 0.4, 0.6, 0.8, 1], "format": "~g", "title": "Cloud amount"}},
                     "y": {"datum": 12.1, "type": "quantitative", "scale": {"domain": [0, 14], "nice": false}, "axis": {"values": [0, 2, 4, 6, 8, 10, 12, 14], "title": "height (km)", "titleFontSize": 8.5}},
                     "text": {"field": "t1"}}}
      ]}}
   ]
  }
 ],
 "spacing": 17,
 "bounds": "full"
}
]
}
